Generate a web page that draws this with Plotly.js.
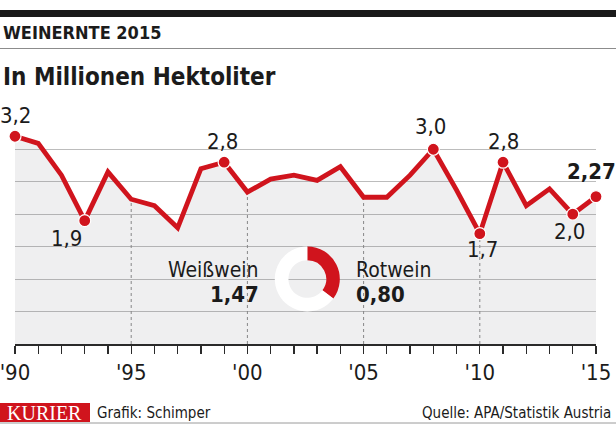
<!DOCTYPE html>
<html>
<head>
<meta charset="utf-8">
<script src="https://cdn.plot.ly/plotly-3.0.1.min.js"></script>
<style>
html,body{margin:0;padding:0;background:#fff;}
#chart{width:616px;height:424px;}
</style>
</head>
<body>
<div id="chart"></div>
<script>
// ---- data ----
const years = [1990,1991,1992,1993,1994,1995,1996,1997,1998,1999,2000,2001,2002,2003,2004,2005,2006,2007,2008,2009,2010,2011,2012,2013,2014,2015];
const values = [3.2,3.09,2.6,1.9,2.65,2.23,2.13,1.79,2.7,2.8,2.34,2.54,2.6,2.52,2.73,2.26,2.26,2.6,3.0,2.37,1.7,2.8,2.13,2.39,2.0,2.27];
const labelYears = [1990,1993,1999,2008,2010,2011,2014,2015];
const labelTexts = ['3,2','1,9','2,8','3,0','1,7','2,8','2,0','2,27'];
const tickYears = [1990,1995,2000,2005,2010,2015];
const tickLabels = ["'90","'95","'00","'05","'10","'15"];
const dashYears = [1995,2000,2005,2010];
const wineTypes = ['Rotwein','Weißwein'];
const wineValues = [0.80,1.47];

// ---- styling ----
const RED = '#d0141d';
const TXT = '#1b1b1b';
const COND = "'Liberation Sans Narrow','DejaVu Sans Condensed','Roboto Condensed','Arial Narrow',Roboto,sans-serif";
const W = 616, H = 424;
const L = 15, R = 20, T = 133, B = 80;
const PW = W - L - R, PH = H - T - B;
const px = x => (x - L) / PW;
const py = y => (H - B - y) / PH;

const valueOf = yr => values[years.indexOf(yr)];

// dashed verticals
const dx = [], dy = [];
dashYears.forEach(yr => { dx.push(yr, yr, null); dy.push(0, valueOf(yr), null); });

const traces = [
  {x: dx, y: dy, type: 'scatter', mode: 'lines', line: {color: '#8a8a8a', width: 1, dash: 'dot'}, hoverinfo: 'skip', showlegend: false},
  {x: years, y: values, type: 'scatter', mode: 'lines', fill: 'tozeroy', fillcolor: 'rgba(110,110,120,0.11)',
   line: {color: RED, width: 4.8, shape: 'linear'}, hoverinfo: 'skip', showlegend: false},
  {x: labelYears, y: labelYears.map(valueOf), type: 'scatter', mode: 'markers',
   marker: {color: RED, size: 12, line: {color: '#ffffff', width: 1.2}}, hoverinfo: 'skip', showlegend: false, cliponaxis: false},
  {type: 'pie', labels: wineTypes, values: wineValues, sort: false, direction: 'clockwise', rotation: 0,
   hole: 0.58, marker: {colors: [RED, '#ffffff'], line: {width: 0}}, textinfo: 'none', hoverinfo: 'skip', showlegend: false,
   domain: {x: [px(274.8), px(339.8)], y: [py(311.5), py(246.5)]}}
];

const labelShift = {
  1990: [0, 21], 1993: [-18, -18], 1999: [-2, 21], 2008: [-3, 23],
  2010: [3, -16], 2011: [0, 21], 2014: [-3, -17], 2015: [-5, 25]
};

const ann = [];
labelYears.forEach((yr, i) => {
  const s = labelShift[yr];
  ann.push({x: yr, y: valueOf(yr), xref: 'x', yref: 'y', text: yr === 2015 ? '<b>' + labelTexts[i] + '</b>' : labelTexts[i],
    showarrow: false, xshift: s[0], yshift: s[1], xanchor: 'center', yanchor: 'middle',
    font: {family: COND, size: 22, color: TXT}});
});

const fmt = v => v.toFixed(2).replace('.', ',');
// Weißwein (left), Rotwein (right)
ann.push({x: px(261), y: py(270), xref: 'paper', yref: 'paper', text: wineTypes[1], showarrow: false,
  xanchor: 'right', yanchor: 'middle', font: {family: COND, size: 21, color: TXT}});
ann.push({x: px(261), y: py(294), xref: 'paper', yref: 'paper', text: '<b>' + fmt(wineValues[1]) + '</b>', showarrow: false,
  xanchor: 'right', yanchor: 'middle', font: {family: COND, size: 22, color: TXT}});
ann.push({x: px(354), y: py(270), xref: 'paper', yref: 'paper', text: wineTypes[0], showarrow: false,
  xanchor: 'left', yanchor: 'middle', font: {family: COND, size: 21, color: TXT}});
ann.push({x: px(354), y: py(294), xref: 'paper', yref: 'paper', text: '<b>' + fmt(wineValues[0]) + '</b>', showarrow: false,
  xanchor: 'left', yanchor: 'middle', font: {family: COND, size: 22, color: TXT}});

// header
ann.push({x: px(1), y: py(32), xref: 'paper', yref: 'paper', text: '<b>WEINERNTE 2015</b>', showarrow: false,
  xanchor: 'left', yanchor: 'middle', font: {family: COND, size: 18, color: TXT}});
ann.push({x: px(1), y: py(77), xref: 'paper', yref: 'paper', text: '<b>In Millionen Hektoliter</b>', showarrow: false,
  xanchor: 'left', yanchor: 'middle', font: {family: COND, size: 24, color: TXT}});

// footer
ann.push({x: px(44), y: py(413), xref: 'paper', yref: 'paper', text: 'KURIER', showarrow: false,
  xanchor: 'center', yanchor: 'middle', font: {family: "'Liberation Serif','DejaVu Serif',serif", size: 20, color: '#ffffff'}});
ann.push({x: px(95), y: py(413), xref: 'paper', yref: 'paper', text: 'Grafik: Schimper', showarrow: false,
  xanchor: 'left', yanchor: 'middle', font: {family: COND, size: 15, color: TXT}});
ann.push({x: px(613), y: py(413), xref: 'paper', yref: 'paper', text: 'Quelle: APA/Statistik Austria', showarrow: false,
  xanchor: 'right', yanchor: 'middle', font: {family: COND, size: 15, color: TXT}});

const shapes = [
  {type: 'rect', xref: 'paper', yref: 'paper', x0: px(0), x1: px(616), y0: py(17), y1: py(10), fillcolor: '#1a1a1a', line: {width: 0}},
  {type: 'line', xref: 'paper', yref: 'paper', x0: px(0), x1: px(616), y0: py(48.5), y1: py(48.5), line: {color: '#8c8c8c', width: 1}},
  {type: 'rect', xref: 'paper', yref: 'paper', x0: px(0), x1: px(90), y0: py(422), y1: py(403), fillcolor: '#d0141d', line: {width: 0}},
  {type: 'line', xref: 'paper', yref: 'paper', x0: px(0), x1: px(616), y0: py(423), y1: py(423), line: {color: '#9a9a9a', width: 1}}
];

const layout = {
  width: W, height: H,
  margin: {l: L, r: R, t: T, b: B, pad: 0},
  paper_bgcolor: '#ffffff', plot_bgcolor: 'rgba(0,0,0,0)',
  showlegend: false,
  xaxis: {range: [1990, 2015], showgrid: false, zeroline: false, showline: true, linecolor: '#2a2a2a', linewidth: 1.5,
    ticks: 'outside', ticklen: 8, tickwidth: 1.3, tickcolor: '#2a2a2a',
    tickmode: 'array', tickvals: years, ticklabeloverflow: 'allow',
    ticktext: years.map(y => { const i = tickYears.indexOf(y); return i >= 0 ? tickLabels[i] : ''; }),
    tickfont: {family: COND, size: 22, color: TXT}, fixedrange: true},
  yaxis: {range: [0, 3.25], dtick: 0.5, tick0: 0, showgrid: true, gridcolor: '#bcbcbc', gridwidth: 1,
    zeroline: false, showticklabels: false, ticks: '', showline: false, fixedrange: true},
  annotations: ann,
  shapes: shapes
};

Plotly.newPlot('chart', traces, layout, {displayModeBar: false, staticPlot: true});
</script>
</body>
</html>
